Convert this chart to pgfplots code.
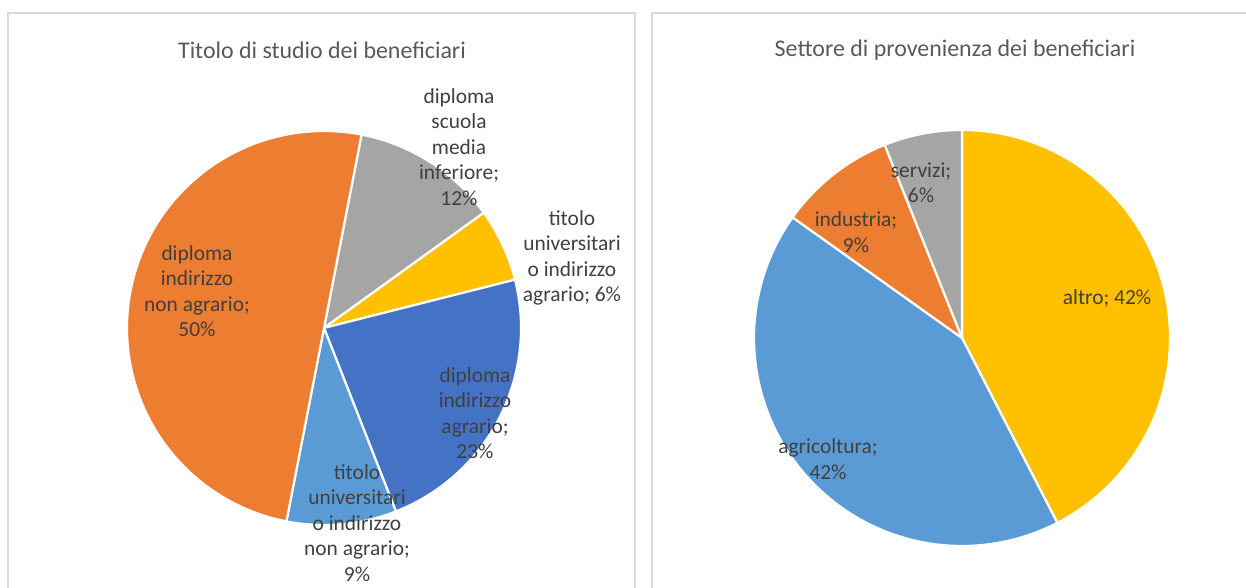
\documentclass[border=0pt]{standalone}
\usepackage{fontspec}
\setmainfont{Carlito}
\usepackage{pgfplots}
\usepackage{pgfplotstable}
\pgfplotsset{compat=1.18}
\definecolor{cblue}{HTML}{4472C4}
\definecolor{corange}{HTML}{ED7D31}
\definecolor{cgray}{HTML}{A5A5A5}
\definecolor{cyellow}{HTML}{FFC000}
\definecolor{clblue}{HTML}{5B9BD5}
\definecolor{titlecol}{HTML}{595959}
\definecolor{labcol}{HTML}{404040}
\definecolor{boxcol}{HTML}{D9D9D9}

% Titolo di studio (clockwise from 11 deg past 12 o'clock)
\pgfplotstableread{
value color
12 cgray
6  cyellow
23 cblue
9  clblue
50 corange
}\studio
% Settore di provenienza (clockwise from 12 o'clock)
\pgfplotstableread{
value color
42 cyellow
42 clblue
9  corange
6  cgray
}\settore

\newcommand\drawpie[3]{% table, start angle, radius
  \pgfplotstablegetrowsof{#1}\pgfmathtruncatemacro\nrows{\pgfplotsretval-1}%
  \def\pietot{0}%
  \pgfplotsforeachungrouped \i in {0,...,\nrows}{%
    \pgfplotstablegetelem{\i}{value}\of{#1}%
    \pgfmathsetmacro\pietot{\pietot+\pgfplotsretval}%
  }%
  \xdef\piecur{#2}%
  \pgfplotsforeachungrouped \i in {0,...,\nrows}{%
    \pgfplotstablegetelem{\i}{value}\of{#1}\let\pval\pgfplotsretval
    \pgfplotstablegetelem{\i}{color}\of{#1}\let\pcol\pgfplotsretval
    \pgfmathsetmacro\pa{\piecur}%
    \pgfmathsetmacro\pfrac{\pval/\pietot}%
    \pgfmathsetmacro\pb{\piecur-\pfrac*360}%
    \edef\tmp{\noexpand\addplot[fill=\pcol,draw=white,line width=2.2bp,line join=round,domain=\pb:\pa,samples=90,variable=\noexpand\t] ({#3*cos(\noexpand\t)},{#3*sin(\noexpand\t)}) -- (axis cs:0,0) -- cycle;}%
    \tmp
    \xdef\piecur{\pb}%
  }%
}

\tikzset{lab/.style={font=\fontsize{21.5}{25.5}\selectfont, text=labcol, align=center, inner sep=0pt},
         ttl/.style={font=\fontsize{24}{29}\selectfont, text=titlecol, inner sep=0pt}}

\begin{document}
\begin{tikzpicture}[x=1bp,y=1bp]
\path[use as bounding box] (0,0) rectangle (1246,588);
\fill[white] (0,0) rectangle (1246,588);
\draw[boxcol, line width=1.2bp] (8,-20) rectangle (635,575);
\draw[boxcol, line width=1.2bp] (652,-20) rectangle (1270,575);

\begin{axis}[at={(324,260)}, anchor=center, scale only axis,
  width=394bp, height=394bp, xmin=-197, xmax=197, ymin=-197, ymax=197,
  hide axis, clip=false]
  \drawpie{\studio}{79}{197}
  \node[ttl] at (axis cs:-2,278) {Titolo di studio dei beneficiari};
  \node[lab] at (axis cs:135,181) {diploma\\scuola\\media\\inferiore;\\12\%};
  \node[lab] at (axis cs:248,70) {titolo\\universitari\\o indirizzo\\agrario; 6\%};
  \node[lab] at (axis cs:-127,37) {diploma\\indirizzo\\non agrario;\\50\%};
  \node[lab] at (axis cs:151,-85) {diploma\\indirizzo\\agrario;\\23\%};
  \node[lab] at (axis cs:33,-195) {titolo\\universitari\\o indirizzo\\non agrario;\\9\%};
\end{axis}

\begin{axis}[at={(962,250)}, anchor=center, scale only axis,
  width=416bp, height=416bp, xmin=-208, xmax=208, ymin=-208, ymax=208,
  hide axis, clip=false]
  \drawpie{\settore}{90}{208}
  \node[ttl] at (axis cs:-7,288) {Settore di provenienza dei beneficiari};
  \node[lab] at (axis cs:-41,155) {servizi;\\6\%};
  \node[lab] at (axis cs:-106,106) {industria;\\9\%};
  \node[lab] at (axis cs:145,40) {altro; 42\%};
  \node[lab] at (axis cs:-134,-121) {agricoltura;\\42\%};
\end{axis}
\end{tikzpicture}
\end{document}
